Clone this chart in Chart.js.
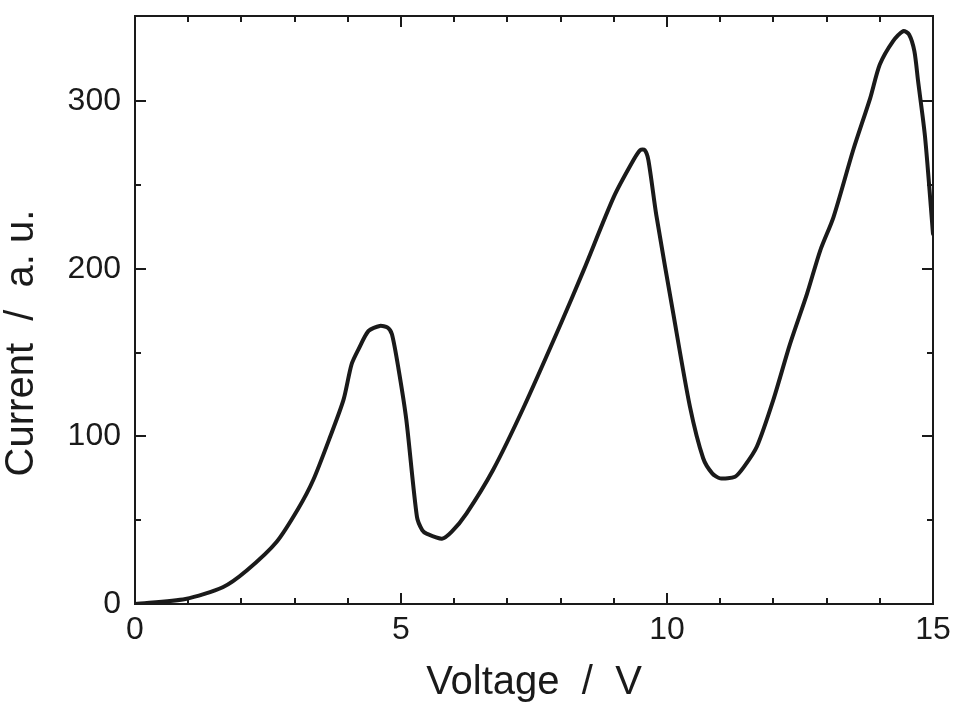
<!DOCTYPE html>
<html>
<head>
<meta charset="utf-8">
<script src="https://cdn.jsdelivr.net/npm/chart.js@4/dist/chart.umd.min.js"></script>
<style>
  html, body { margin: 0; padding: 0; background: #fff; }
  #wrap { width: 960px; height: 719px; position: relative; }
</style>
</head>
<body>
<div id="wrap"><canvas id="c" width="960" height="719"></canvas></div>
<script>
// ---- data ----
const voltage = [0, 0.95, 1.65, 2.1, 2.66, 3.07, 3.35, 3.67, 3.92, 4.07, 4.2, 4.39, 4.6, 4.75, 4.83, 4.95, 5.1, 5.3, 5.4, 5.48, 5.77, 5.95, 6.23, 6.73, 7.3, 8.0, 8.43, 9.0, 9.37, 9.5, 9.58, 9.65, 9.8, 10.12, 10.43, 10.68, 10.85, 11.0, 11.28, 11.45, 11.69, 12.0, 12.31, 12.63, 12.88, 13.13, 13.5, 13.82, 14.0, 14.25, 14.44, 14.55, 14.65, 14.72, 14.85, 15.0];
const current = [0, 3, 10, 20, 37, 57, 74, 100, 122, 143, 152, 163, 166, 165, 161, 141, 110, 52, 44, 42, 39, 43, 54, 80, 117, 167, 199, 243, 265, 271, 271, 265, 232, 173, 118, 87, 78, 75, 76, 82, 94, 122, 155, 185, 211, 231, 271, 302, 322, 336, 342, 340, 330, 312, 279, 221];

const xMajorTicks = [0, 5, 10, 15];
const xMinorTicks = [1, 2, 3, 4, 6, 7, 8, 9, 11, 12, 13, 14];
const yMajorTicks = [0, 100, 200, 300];
const yMinorTicks = [50, 150, 250];
const xTitle = 'Voltage  /  V';
const yTitle = 'Current  /  a. u.';

const FONT = '"Liberation Sans", Arial, Helvetica, sans-serif';
const INK = '#1a1a1a';

const points = voltage.map((v, i) => ({ x: v, y: current[i] }));

const framePlugin = {
  id: 'frameTicks',
  afterDatasetsDraw(chart) {
    const { ctx, chartArea: a, scales: { x, y } } = chart;
    ctx.save();
    ctx.strokeStyle = INK;
    ctx.lineWidth = 2;
    ctx.strokeRect(a.left, a.top, a.right - a.left, a.bottom - a.top);
    const MAJ = 11, MIN = 6;
    ctx.beginPath();
    const xt = (v, len) => {
      const px = Math.round(x.getPixelForValue(v));
      ctx.moveTo(px, a.bottom); ctx.lineTo(px, a.bottom - len);
      ctx.moveTo(px, a.top); ctx.lineTo(px, a.top + len);
    };
    const yt = (v, len) => {
      const py = Math.round(y.getPixelForValue(v));
      ctx.moveTo(a.left, py); ctx.lineTo(a.left + len, py);
      ctx.moveTo(a.right, py); ctx.lineTo(a.right - len, py);
    };
    xMajorTicks.forEach(v => xt(v, MAJ));
    xMinorTicks.forEach(v => xt(v, MIN));
    yMajorTicks.forEach(v => yt(v, MAJ));
    yMinorTicks.forEach(v => yt(v, MIN));
    ctx.stroke();

    // y axis title
    ctx.fillStyle = INK;
    ctx.font = '40px ' + FONT;
    ctx.textAlign = 'center';
    ctx.textBaseline = 'middle';
    ctx.translate(22, 343);
    ctx.rotate(-Math.PI / 2);
    ctx.fillText(yTitle, 0, 0);
    ctx.restore();
  }
};

new Chart(document.getElementById('c'), {
  type: 'line',
  data: {
    datasets: [{
      data: points,
      borderColor: INK,
      borderWidth: 4,
      pointRadius: 0,
      fill: false,
      tension: 0.25,
      borderJoinStyle: 'round',
      borderCapStyle: 'round'
    }]
  },
  options: {
    responsive: false,
    animation: false,
    layout: { padding: { left: 0, right: 27, top: 16, bottom: 0 } },
    plugins: { legend: { display: false }, tooltip: { enabled: false } },
    scales: {
      x: {
        type: 'linear',
        min: 0, max: 15,
        grid: { display: false, drawTicks: false },
        border: { display: false },
        afterBuildTicks: s => { s.ticks = xMajorTicks.map(v => ({ value: v })); },
        afterFit: s => { s.height = 115; s.paddingLeft = 0; s.paddingRight = 0; },
        ticks: { color: INK, font: { family: FONT, size: 32 }, padding: 7, maxRotation: 0 },
        title: { display: true, text: xTitle, color: INK, font: { family: FONT, size: 40 }, padding: { top: 0, bottom: 12 } }
      },
      y: {
        type: 'linear',
        min: 0, max: 351,
        grid: { display: false, drawTicks: false },
        border: { display: false },
        afterBuildTicks: s => { s.ticks = yMajorTicks.map(v => ({ value: v })); },
        afterFit: s => { s.width = 135; s.paddingTop = 0; s.paddingBottom = 0; },
        ticks: { color: INK, font: { family: FONT, size: 32 }, padding: 14 },
        title: { display: false }
      }
    }
  },
  plugins: [framePlugin]
});
</script>
</body>
</html>
